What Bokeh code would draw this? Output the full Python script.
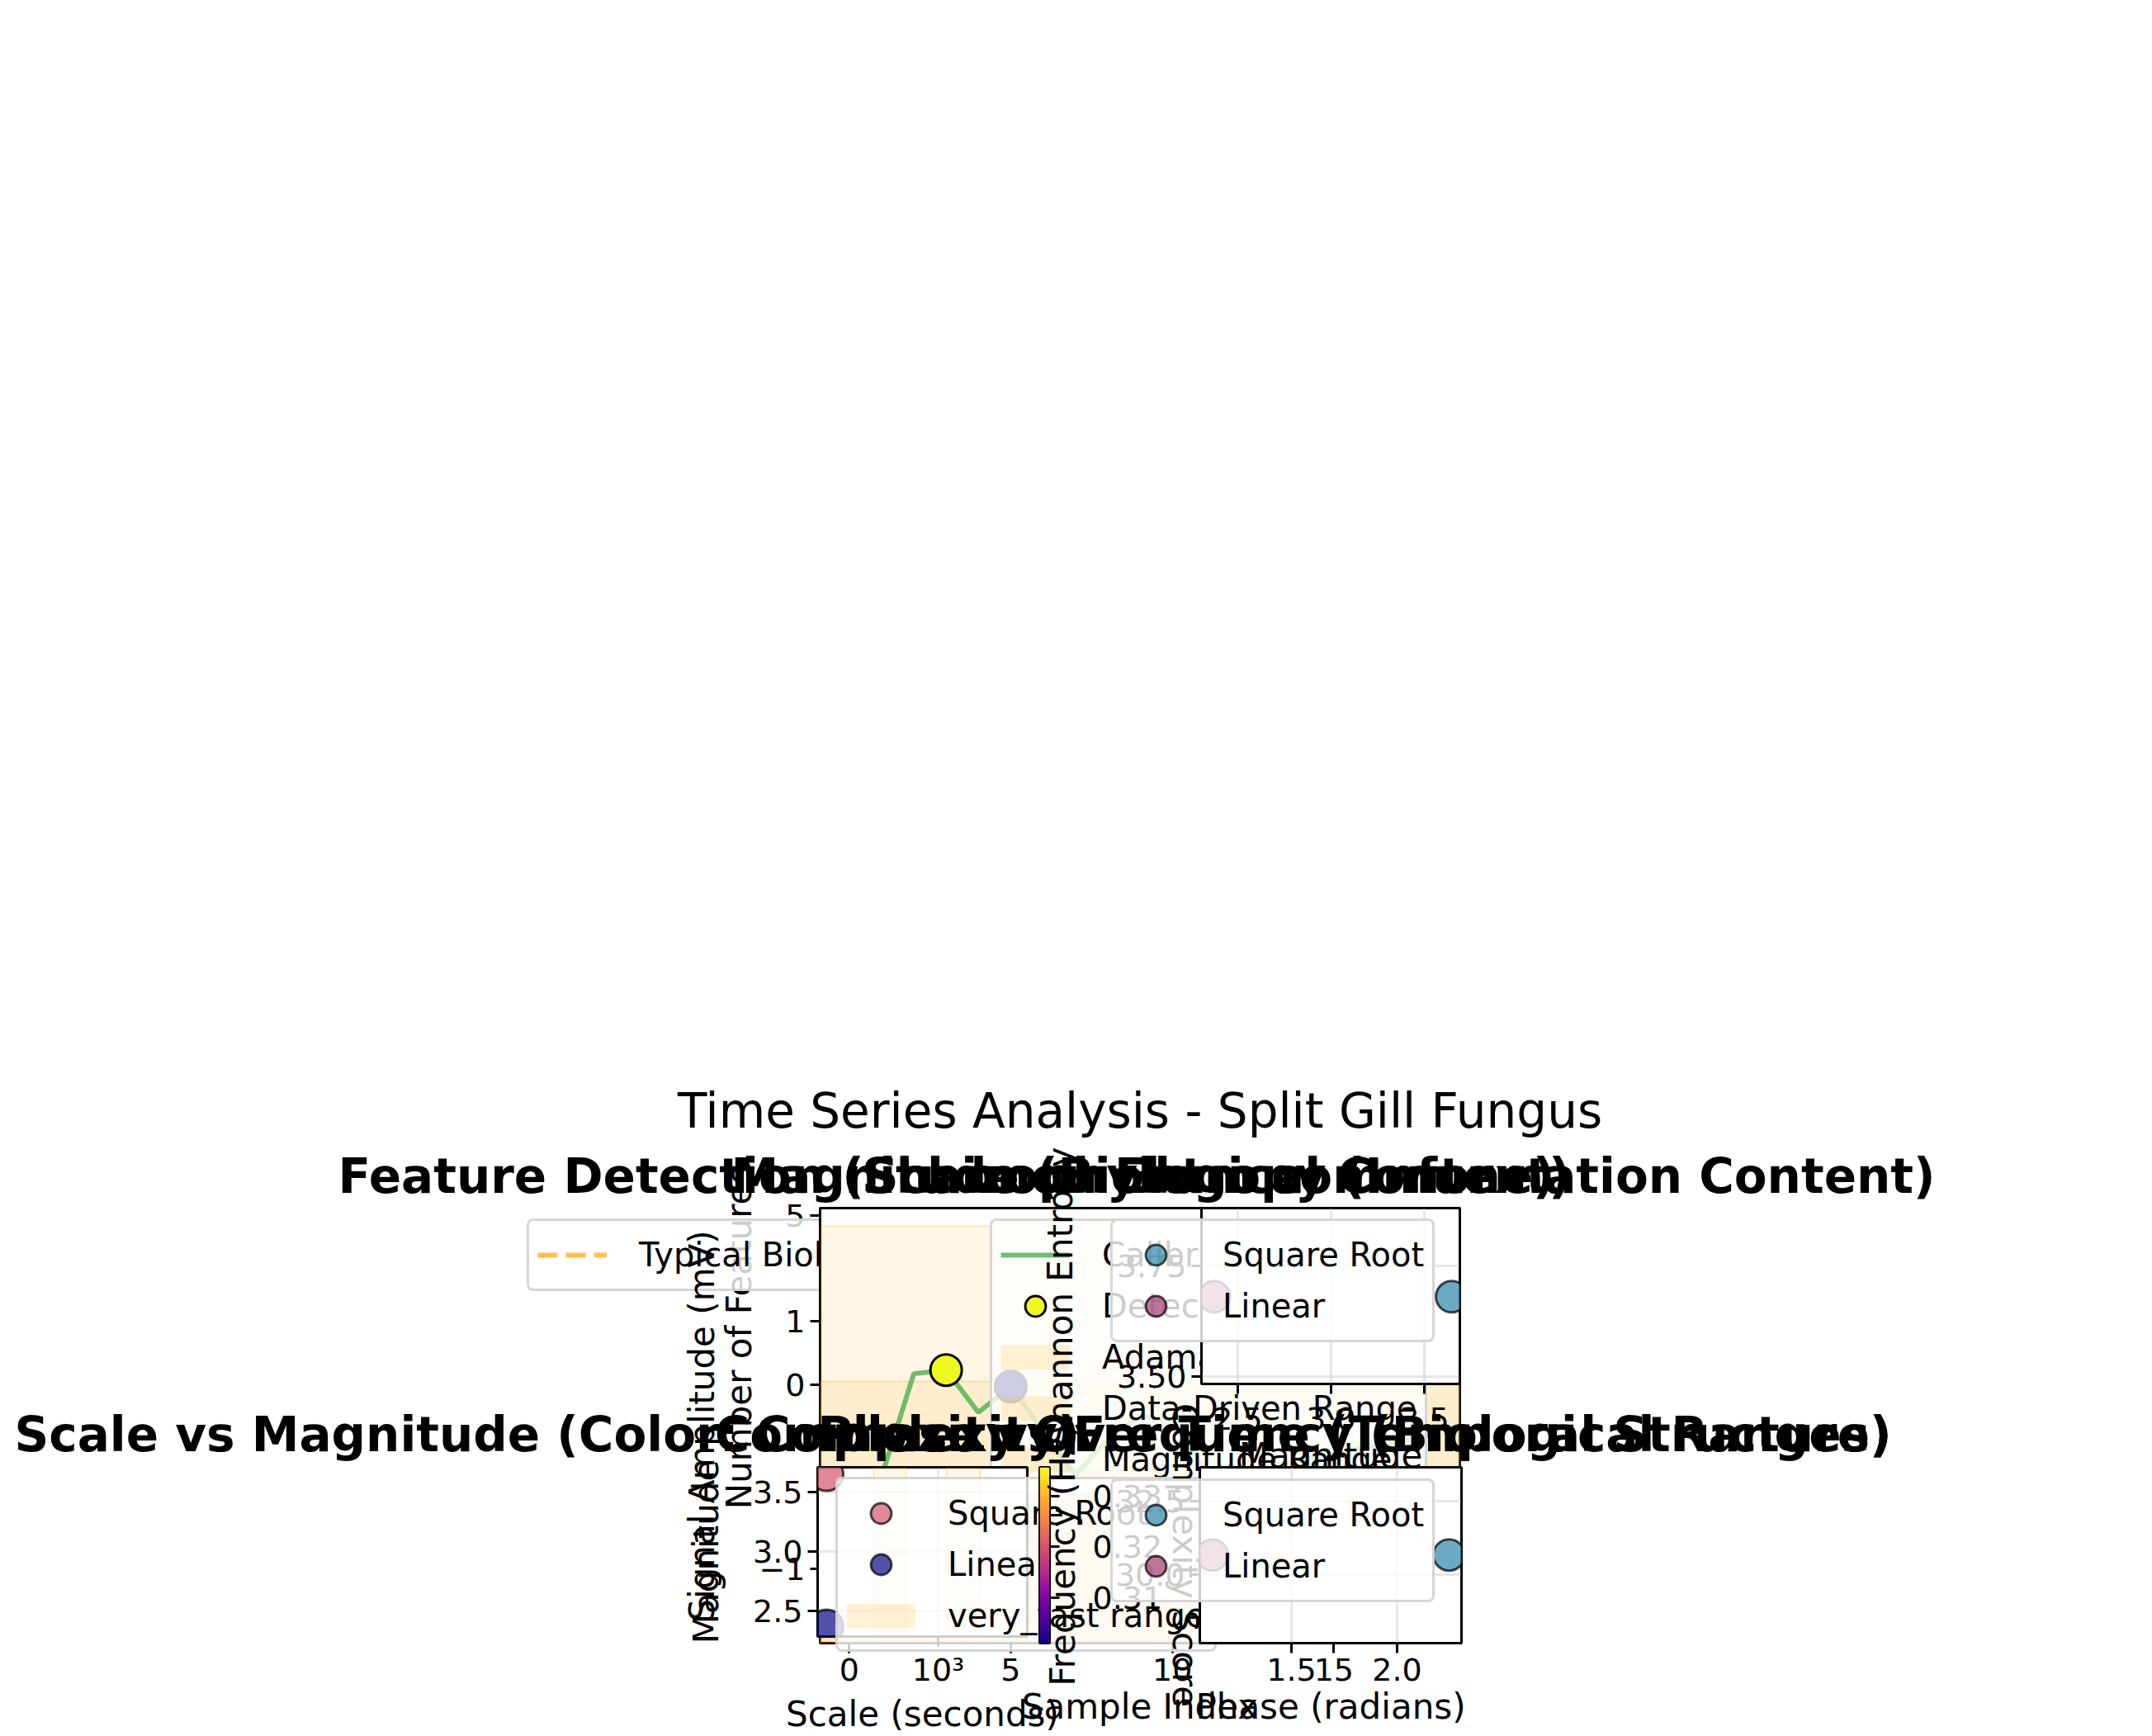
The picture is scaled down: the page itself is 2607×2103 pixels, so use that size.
import numpy as np
from bokeh.plotting import figure
from bokeh.models import (Range1d, FixedTicker, Legend, LegendItem, Title,
                          LinearColorMapper, ColumnDataSource, PrintfTickFormatter)
from bokeh.palettes import Plasma256
from bokeh.embed import file_html
from bokeh.resources import INLINE

W, H = 2607, 2103
FONT = "DejaVu Sans"
NAN = float("nan")

# ---------------- chart data ----------------
suptitle_text = "Time Series Analysis - Split Gill Fungus"
title_feature = "Feature Detection (Schizophyllum commune)"
title_magnitude = "Magnitude (Biological Context)"
title_entropy = "Shannon Entropy (Information Content)"
title_scale = "Scale vs Magnitude (Color: Complexity)"
title_complexity = "Complexity Over Time (Temporal Structure)"
title_phase = "Phase vs Frequency (Biological Ranges)"

sample_index = list(range(19))
signal_mv = [-0.80, -0.50, 0.06, 0.08, -0.15, -0.01, -0.25, -0.49, -0.30, -0.17,
             -0.19, -0.46, -0.60, -0.44, -0.41, -0.37, -0.34, -0.31, -0.27]
detected_index = [3, 5]
detected_mv = [0.08, -0.01]
range_names = ["Adamatzky Range", "Data-Driven Range", "Magnitude Range"]
range_low = [-1.6, -1.6, -1.6]
range_high = [0.861, 0.018, -0.45]
signal_label = "Calibrated Signal"
detected_label = "Detected Features"

feature_types = ["Spikes", "Bursts", "Oscillations"]
feature_counts = [5, 1, 0]
typical_bio_level = 2.0
typical_bio_label = "Typical Biological Range"

methods = ["Square Root", "Linear"]
method_colors = ["#2E86AB", "#A23B72"]
magnitude = [3.646, 2.374]
shannon_entropy = [3.68, 3.68]
phase_rad = [2.246, 1.125]
frequency_hz = [30.67, 30.67]
scale_seconds = [294.0, 294.0]
complexity_score = [0.320, 0.301]
complexity_limits = [0.301, 0.3357]
speed_band_names = ["very_fast range", "fast range"]
speed_band_low = [493.0, 1094.0]
speed_band_high = [702.0, 1588.0]

sample_ticks = [0, 5, 10, 15]
amplitude_ticks = [-1, 0]
feature_ticks = [1, 5]
entropy_ticks = [3.5, 3.75]
magnitude_ticks = [2.5, 3.0, 3.5]
scale_ticks = [1000]
scale_tick_labels = {1000: "10³"}
phase_ticks = [1.5, 2.0]
frequency_ticks = [30.0, 32.5]
complexity_ticks = [0.31, 0.32, 0.33]

# ---------------- layout (frames: left, top, right, bottom in px) ----------------
FR_FEAT = (993, 1463, 1280, 1776)
FR_TS = (993, 1463, 1768, 1990)
FR_ENT = (1455, 1463, 1768, 1676)
FR_SCALE = (990, 1777, 1244, 1990)
FR_CB = (1259, 1777, 1271, 1990)
FR_PHASE = (1453, 1777, 1770, 1990)

STACK = {"position": "absolute", "left": "0px", "top": "0px"}

BAND_STYLE = dict(fill_color="orange", fill_alpha=0.1, line_color="orange",
                  line_alpha=0.25, line_width=2)
BAND_HANDLE = dict(line_color="orange", line_alpha=0.16, line_width=30)


def make_fig(frame, xr, yr, x_type="linear", x_loc="below", y_loc="left", outline=True):
    L, T, R, B = frame
    p = figure(width=W, height=H, x_range=Range1d(*xr), y_range=Range1d(*yr),
               x_axis_type=x_type, x_axis_location=x_loc, y_axis_location=y_loc,
               title=None, toolbar_location=None, output_backend="svg",
               min_border_left=L, min_border_right=W - R,
               min_border_top=T, min_border_bottom=H - B,
               background_fill_color="white", border_fill_color=None,
               outline_line_color="black" if outline else None, outline_line_width=3,
               styles=STACK)
    for ax in p.axis:
        ax.axis_line_color = None
        ax.major_tick_line_width = 3
        ax.major_tick_line_color = "black"
        ax.major_tick_out = 12
        ax.major_tick_in = 0
        ax.minor_tick_line_color = None
        ax.major_label_text_font = FONT
        ax.major_label_text_font_size = "38px"
        ax.major_label_text_color = "black"
        ax.major_label_standoff = 6
        ax.axis_label_text_font = FONT
        ax.axis_label_text_font_size = "42px"
        ax.axis_label_text_font_style = "normal"
        ax.axis_label_text_color = "black"
        ax.axis_label_standoff = 4
    p.grid.grid_line_color = None
    return p


def show_grid(p):
    p.grid.grid_line_color = "#b0b0b0"
    p.grid.grid_line_alpha = 0.3
    p.grid.grid_line_width = 3


def add_title(p, text, align, offset, size="58px", bold=True, standoff=10):
    p.add_layout(Title(text=text, align=align, offset=offset, standoff=standoff,
                       text_font=FONT, text_font_size=size, text_color="black",
                       text_font_style="bold" if bold else "normal"), "above")


# legends are drawn on a transparent full-page layer so that, like matplotlib's,
# they may spill over the edges of their axes
GLYPH_H, SPACING, PAD = 62, 0, 10
LEGEND_EXTRA = {"border_radius": 8} if "border_radius" in Legend.properties() else {}


def legend_layer(entries, left, top):
    """entries: list of (label, kind, style) ; kind in line / marker / band"""
    q = figure(width=W, height=H, x_range=Range1d(0, 1), y_range=Range1d(0, 1),
               x_axis_location=None, y_axis_location=None, title=None,
               toolbar_location=None, output_backend="svg", min_border=0,
               background_fill_color=None, border_fill_color=None,
               outline_line_color=None, styles=STACK)
    q.grid.visible = False
    items = []
    for label, kind, style in entries:
        if kind == "marker":
            src = ColumnDataSource(dict(x=[NAN], y=[NAN], c=[style.pop("value", 0.0)]))
            r = q.scatter("x", "y", source=src, **style)
            items.append(LegendItem(label=label, renderers=[r], index=0))
        else:
            r = q.line([NAN, NAN], [NAN, NAN], **style)
            items.append(LegendItem(label=label, renderers=[r]))
    n = len(items)
    h = 2 * PAD + n * GLYPH_H + (n - 1) * SPACING
    lg = Legend(items=items, location=(left, H - (top + h)),
                glyph_width=84, glyph_height=GLYPH_H, label_height=40,
                spacing=SPACING, padding=PAD, margin=0, label_standoff=39,
                label_text_font=FONT, label_text_font_size="40px",
                label_text_color="black",
                background_fill_color="white", background_fill_alpha=0.8,
                border_line_color="#cccccc", border_line_width=3, border_line_alpha=0.8,
                **LEGEND_EXTRA)
    q.add_layout(lg)
    return q


# ---------- 1: Feature detection ----------
p1 = make_fig(FR_FEAT, (-0.6, 2.6), (-4.5, 5.28), x_loc=None)
p1.vbar(x=list(range(len(feature_types))), top=feature_counts, width=0.6,
        fill_color="#7fb3d5", line_color="black")
typ_style = dict(line_color="#FFA500", line_alpha=0.7, line_width=6, line_dash="24 10")
p1.line(x=[-0.6, 2.6], y=[typical_bio_level, typical_bio_level], **typ_style)
p1.yaxis.ticker = FixedTicker(ticks=feature_ticks)
p1.yaxis.axis_label = "Number of Features"
p1.yaxis.axis_label_standoff = 28
add_title(p1, title_feature, "left", 409 - FR_FEAT[0])
leg1 = legend_layer([(typical_bio_label, "line", dict(typ_style))], left=638, top=1482)

# ---------- 2: Time series with biological ranges ----------
p2 = make_fig(FR_TS, (-0.9, 18.9), (-1.404, 0.96))
for lo, hi in zip(range_low, range_high):
    p2.quad(left=-0.9, right=18.9, bottom=lo, top=hi, **BAND_STYLE)
sig_style = dict(line_color="#4CAF50", line_alpha=0.8, line_width=6)
p2.line(sample_index, signal_mv, **sig_style)
det_src = ColumnDataSource(dict(x=detected_index, y=detected_mv))
det_map = LinearColorMapper(palette=Plasma256, low=min(detected_mv), high=max(detected_mv))
p2.scatter("x", "y", source=det_src, size=38,
           fill_color={"field": "y", "transform": det_map},
           line_color="black", line_width=3)
p2.xaxis.ticker = FixedTicker(ticks=sample_ticks)
p2.xaxis.axis_label = "Sample Index"
p2.yaxis.ticker = FixedTicker(ticks=amplitude_ticks)
p2.yaxis.major_label_overrides = {-1: "−1"}
p2.yaxis.axis_label = "Signal Amplitude (mV)"
p2.yaxis.axis_label_standoff = 41
add_title(p2, title_magnitude, "left", 885 - FR_TS[0])
add_title(p2, suptitle_text, "center", 0, bold=False, standoff=8)
ts_entries = [(signal_label, "line", dict(sig_style)),
              (detected_label, "marker",
               dict(value=detected_mv[0], size=38, line_color="black", line_width=3,
                    fill_color={"field": "c", "transform": det_map}))]
for name in range_names:
    ts_entries.append((name, "band", dict(BAND_HANDLE)))
leg2 = legend_layer(ts_entries, left=1199, top=1482)

# ---------- 3: Entropy ----------
p3 = make_fig(FR_ENT, (2.305, 3.69), (3.483, 3.88))
show_grid(p3)
pt_style = dict(size=38, fill_alpha=0.7, line_color="black", line_alpha=0.7, line_width=3)
for c, x, y in zip(method_colors, magnitude, shannon_entropy):
    p3.scatter([x], [y], fill_color=c, **pt_style)
p3.xaxis.ticker = FixedTicker(ticks=magnitude_ticks)
p3.xaxis.formatter = PrintfTickFormatter(format="%.1f")
p3.xaxis.axis_label = "Magnitude"
p3.xaxis.major_label_standoff = 16
p3.yaxis.ticker = FixedTicker(ticks=entropy_ticks)
p3.yaxis.formatter = PrintfTickFormatter(format="%.2f")
p3.yaxis.axis_label = "Shannon Entropy"
p3.yaxis.axis_label_standoff = 41
add_title(p3, title_entropy, "right", FR_ENT[2] - 2344)
method_entries = [(m, "marker", dict(fill_color=c, **pt_style))
                  for m, c in zip(methods, method_colors)]
leg3 = legend_layer([(l, k, dict(s)) for l, k, s in method_entries], left=1345, top=1482)

# ---------- 4: Scale vs magnitude ----------
p4 = make_fig(FR_SCALE, (266, 2661), (2.288, 3.705), x_type="log")
show_grid(p4)
for lo, hi in zip(speed_band_low, speed_band_high):
    p4.quad(left=lo, right=hi, bottom=2.288, top=3.705, **BAND_STYLE)
cmap = LinearColorMapper(palette=Plasma256, low=complexity_limits[0], high=complexity_limits[1])
sc_style = dict(size=40, fill_alpha=0.7, line_color="black", line_alpha=0.7, line_width=3)
for x, y, c in zip(scale_seconds, magnitude, complexity_score):
    src = ColumnDataSource(dict(x=[x], y=[y], c=[c]))
    p4.scatter("x", "y", source=src, fill_color={"field": "c", "transform": cmap}, **sc_style)
p4.xaxis.ticker = FixedTicker(ticks=scale_ticks)
p4.xaxis.major_label_overrides = scale_tick_labels
p4.xaxis.axis_label = "Scale (seconds)"
p4.yaxis.ticker = FixedTicker(ticks=magnitude_ticks)
p4.yaxis.formatter = PrintfTickFormatter(format="%.1f")
p4.yaxis.axis_label = "Magnitude"
p4.yaxis.axis_label_standoff = 29
add_title(p4, title_scale, "left", 17 - FR_SCALE[0], standoff=12)
sc_entries = [(m, "marker", dict(value=c, fill_color={"field": "c", "transform": cmap}, **sc_style))
              for m, c in zip(methods, complexity_score)]
sc_entries.append((speed_band_names[0], "band", dict(BAND_HANDLE)))
leg4 = legend_layer(sc_entries, left=1012, top=1795)

# ---------- 5: Colour bar (complexity) ----------
p5 = make_fig(FR_CB, (0, 1), tuple(complexity_limits), x_loc=None, y_loc="right")
grad = np.linspace(complexity_limits[0], complexity_limits[1], 256).reshape(-1, 1)
p5.image(image=[grad], x=0, y=complexity_limits[0], dw=1,
         dh=complexity_limits[1] - complexity_limits[0], color_mapper=cmap)
p5.yaxis.ticker = FixedTicker(ticks=complexity_ticks)
p5.yaxis.formatter = PrintfTickFormatter(format="%.2f")
p5.yaxis.axis_label = "Complexity Score"
p5.yaxis.major_label_standoff = 40
p5.yaxis.axis_label_standoff = 0
add_title(p5, title_complexity, "right", FR_CB[2] - 2291, standoff=12)

# ---------- 6: Phase vs frequency ----------
p6 = make_fig(FR_PHASE, (1.066, 2.305), (27.67, 33.65))
show_grid(p6)
for c, x, y in zip(method_colors, phase_rad, frequency_hz):
    p6.scatter([x], [y], fill_color=c, **pt_style)
p6.xaxis.ticker = FixedTicker(ticks=phase_ticks)
p6.xaxis.formatter = PrintfTickFormatter(format="%.1f")
p6.xaxis.axis_label = "Phase (radians)"
p6.yaxis.ticker = FixedTicker(ticks=frequency_ticks)
p6.yaxis.formatter = PrintfTickFormatter(format="%.1f")
p6.yaxis.axis_label = "Frequency (Hz)"
p6.yaxis.axis_label_standoff = 36
add_title(p6, title_phase, "right", FR_PHASE[2] - 2291, standoff=12)
leg6 = legend_layer([(l, k, dict(s)) for l, k, s in method_entries], left=1345, top=1797)

figs = [p1, leg1, p2, leg2, p3, leg3, p4, leg4, p5, p6, leg6]

open("out.html", "w").write(file_html(figs, INLINE, title=suptitle_text))
